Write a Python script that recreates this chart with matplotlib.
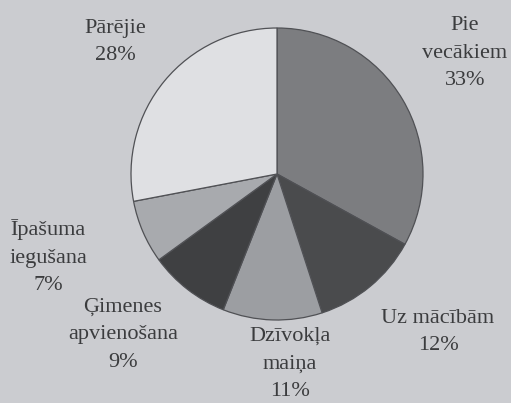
import matplotlib
matplotlib.use("Agg")
import matplotlib.pyplot as plt

categories = ["Pie\nvecākiem", "Uz mācībām", "Dzīvokļa\nmaiņa", "Ģimenes\napvienošana", "Īpašuma\niegušana", "Pārējie"]
values = [33, 12, 11, 9, 7, 28]
colors = ["#7c7d80", "#4a4b4d", "#9c9ea2", "#3f4042", "#a8aaae", "#dfe0e3"]

W, H = 511, 403
cx, cy, r = 277, 174, 146

fig = plt.figure(figsize=(W / 100, H / 100), dpi=100, facecolor="#cbccd0")
ax = fig.add_axes([(cx - r) / W, (H - cy - r) / H, 2 * r / W, 2 * r / H])
ax.set_facecolor("none")

ax.pie(values, colors=colors, startangle=90, counterclock=False, radius=1.0,
       wedgeprops=dict(edgecolor="#505155", linewidth=0.9))
ax.set_xlim(-1, 1)
ax.set_ylim(-1, 1)
ax.set_aspect("equal")
ax.axis("off")

# label centre x and first-line baseline y, in pixels
label_pos = [(465, 30), (438, 323), (290, 341), (123, 312), (48, 235), (115, 33)]
line_gap = 27.5
for cat, val, (px, py) in zip(categories, values, label_pos):
    lines = cat.split("\n") + [f"{val}%"]
    for i, line in enumerate(lines):
        fig.text(px / W, 1 - (py + i * line_gap) / H, line, ha="center", va="baseline",
                 fontsize=16, family="Liberation Serif", color="#3b3c3e")

fig.savefig("out.png", dpi=100, facecolor=fig.get_facecolor())
